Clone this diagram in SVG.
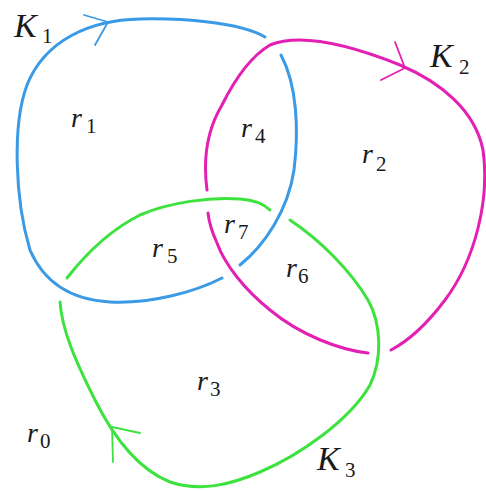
<svg xmlns="http://www.w3.org/2000/svg" width="486" height="491" viewBox="0 0 486 491">
<style>
.k{fill:none;stroke-width:3;stroke-linecap:round;stroke-linejoin:round}
.ar{fill:none;stroke-width:1.8;stroke-linecap:round;stroke-linejoin:round}
.b{stroke:#3a9ae6}
.p{stroke:#e420b4}
.g{stroke:#3ee23e}
.t{fill:#1a1a1a}
.it{font-style:italic}
.r{font-size:28px}
.K{font-size:34px}
.s{font-size:21px;font-style:normal}
</style>
<rect width="486" height="491" fill="#ffffff"/>
<g id="connectors">
<g id="K1-curve">
<path class="k b" d="M265,37 C240,22 180,18 140,19 C90,20 45,40 27,85 C12,125 15,200 30,250 C45,285 75,300 110,302 C150,304 195,292 222,278"/>
<path class="k b" d="M240,265 C265,245 288,210 294,170 C299,130 297,85 281,55"/>
<polyline class="ar b" points="84,15 108,22 95,45"/>
</g>
<g id="K2-curve">
<path class="k p" d="M207,190 C203,160 207,130 222,105 C232,85 248,58 270,45 C300,33 350,45 400,65 C440,82 475,110 483,150 C490,200 475,260 445,300 C430,320 410,340 391,350"/>
<path class="k p" d="M368,353 C340,350 300,335 270,310 C245,290 225,265 217,243 C212,232 209,222 208,213"/>
<polyline class="ar p" points="395,42 405,68 381,80"/>
</g>
<g id="K3-curve">
<path class="k g" d="M290,220 C320,240 350,270 368,300 C382,325 382,360 370,385 C350,420 300,455 260,472 C230,485 200,492 170,482 C140,470 115,440 95,400 C75,360 62,330 60,302"/>
<path class="k g" d="M67,278 C85,255 110,230 140,215 C170,202 210,197 240,199 C255,200 265,205 270,210"/>
<polyline class="ar g" points="140,433 112,427 113,462"/>
</g>
</g>
<g id="labels" font-family="'Liberation Serif', 'DejaVu Serif', 'Times New Roman', serif">
<g id="K1"><text class="t"><tspan class="it K" x="14" y="37">K</tspan><tspan class="s" x="42" y="43">1</tspan></text></g>
<g id="K2"><text class="t"><tspan class="it K" x="430" y="67">K</tspan><tspan class="s" x="459" y="74">2</tspan></text></g>
<g id="K3"><text class="t"><tspan class="it K" x="317" y="470">K</tspan><tspan class="s" x="345" y="477">3</tspan></text></g>
<g id="r0"><text class="t"><tspan class="it r" x="27" y="442">r</tspan><tspan class="s" x="40" y="448">0</tspan></text></g>
<g id="r1"><text class="t"><tspan class="it r" x="71" y="127">r</tspan><tspan class="s" x="86" y="133">1</tspan></text></g>
<g id="r2"><text class="t"><tspan class="it r" x="362" y="163">r</tspan><tspan class="s" x="376" y="171">2</tspan></text></g>
<g id="r3"><text class="t"><tspan class="it r" x="197" y="390">r</tspan><tspan class="s" x="210" y="396">3</tspan></text></g>
<g id="r4"><text class="t"><tspan class="it r" x="241" y="137">r</tspan><tspan class="s" x="255" y="143">4</tspan></text></g>
<g id="r5"><text class="t"><tspan class="it r" x="152" y="257">r</tspan><tspan class="s" x="167" y="263">5</tspan></text></g>
<g id="r6"><text class="t"><tspan class="it r" x="286" y="277">r</tspan><tspan class="s" x="298" y="283">6</tspan></text></g>
<g id="r7"><text class="t"><tspan class="it r" x="224" y="233">r</tspan><tspan class="s" x="238" y="239">7</tspan></text></g>
</g>
</svg>
